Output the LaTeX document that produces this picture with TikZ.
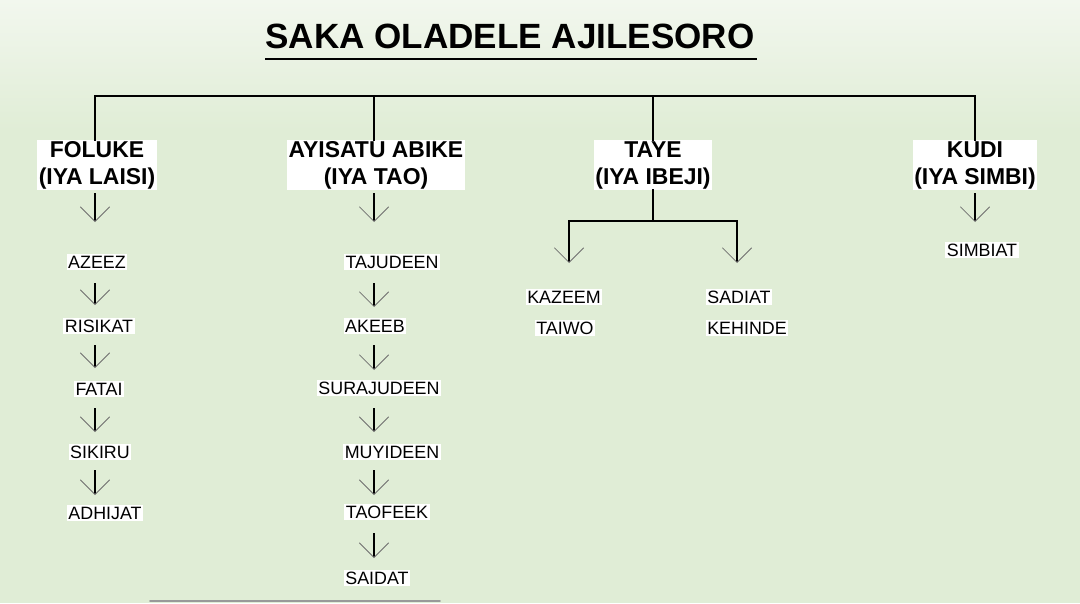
\documentclass[tikz,border=0pt]{standalone}
\usepackage{fontspec}
\setmainfont{Liberation Sans}
\usetikzlibrary{arrows.meta}
\definecolor{bgg}{RGB}{224,237,214}
\definecolor{bgtop}{RGB}{242,247,238}
\definecolor{tipgray}{RGB}{110,110,110}
\begin{document}
\begin{tikzpicture}[x=0.75pt,y=-0.75pt,
  titlefont/.style={font=\fontsize{26.3}{30}\selectfont\bfseries},
  parent/.style={align=center,font=\fontsize{17.2}{20.25}\selectfont\bfseries,fill=white,inner sep=1pt},
  child/.style={font=\fontsize{13.4}{16}\selectfont,fill=white,inner sep=1.2pt},
  bar/.style={line width=2.1pt,black,line cap=rect},
  arr/.style={line width=1.2pt,black,-{Straight Barb[length=11pt,width=22pt,color=tipgray,line width=0.6pt]}},
  arrthick/.style={line width=2pt,black,-{Straight Barb[length=11pt,width=22pt,color=tipgray,line width=0.6pt]}},
]
\useasboundingbox (0,0) rectangle (1080,603);
\fill[bgg] (0,0) rectangle (1080,603);
\shade[top color=bgtop,bottom color=bgg] (0,0) rectangle (1080,130);

% title
\node[titlefont,inner sep=0pt] (title) at (510,36) {SAKA OLADELE AJILESORO};
\coordinate (ul1) at (265,59);
\coordinate (ul2) at (757,59);
\draw[line width=2pt] (ul1) -- (ul2);

% parents
\node[parent] (p1) at (97,165) {FOLUKE\\(IYA LAISI)};
\node[parent] (p2) at (376,165) {AYISATU ABIKE\\(IYA TAO)};
\node[parent] (p3) at (653,165) {TAYE\\(IYA IBEJI)};
\node[parent] (p4) at (975,165) {KUDI\\(IYA SIMBI)};

% top bar
\coordinate (b1) at (95,96);
\coordinate (b2) at (374,96);
\coordinate (b3) at (653,96);
\coordinate (b4) at (975,96);
\draw[bar] (b1) -- (b4);
\draw[bar] (b1) -- (b1 |- p1.north);
\draw[bar] (b2) -- (b2 |- p2.north);
\draw[bar] (b3) -- (b3 |- p3.north);
\draw[bar] (b4) -- (b4 |- p4.north);

% children
\node[child] (c11) at (97,262) {AZEEZ};
\node[child] (c12) at (99,326) {RISIKAT};
\node[child] (c13) at (99,389) {FATAI};
\node[child] (c14) at (100,452) {SIKIRU};
\node[child] (c15) at (105,513) {ADHIJAT};

\node[child] (c21) at (392,262) {TAJUDEEN};
\node[child] (c22) at (375,326) {AKEEB};
\node[child] (c23) at (379,388) {SURAJUDEEN};
\node[child] (c24) at (392,452) {MUYIDEEN};
\node[child] (c25) at (387,512) {TAOFEEK};
\node[child] (c26) at (377,578) {SAIDAT};

\node[child] (c31) at (564,297) {KAZEEM};
\node[child] (c32) at (565,328) {TAIWO};
\node[child] (c33) at (739,297) {SADIAT};
\node[child] (c34) at (747,328) {KEHINDE};

\node[child] (c41) at (982,250) {SIMBIAT};

% arrows
\foreach \n/\x/\a/\b in {a11/95/193/222, a12/95/283/305, a13/95/345/368, a14/95/408/432, a15/95/470/495,
  a21/374/193/222, a22/374/283/307, a23/374/345/370, a24/374/408/432, a25/374/470/495, a26/374/533/558,
  a41/975/193/222}{
  \coordinate (\n s) at (\x,\a);
  \coordinate (\n e) at (\x,\b);
  \draw[arr] (\n s) -- (\n e);
}

% Taye junction
\coordinate (jl) at (569,221);
\coordinate (jr) at (737,221);
\coordinate (kl) at (569,263);
\coordinate (kr) at (737,263);
\draw[bar] (p3.south) -- (p3.south |- jl);
\draw[bar] (jl) -- (jr);
\draw[arrthick] (jl) -- (kl);
\draw[arrthick] (jr) -- (kr);

% cut-off line at bottom
\coordinate (bl1) at (150,601);
\coordinate (bl2) at (440,601);
\draw[line width=1.2pt,black!40,line cap=round] (bl1) -- (bl2);
\end{tikzpicture}
\end{document}
